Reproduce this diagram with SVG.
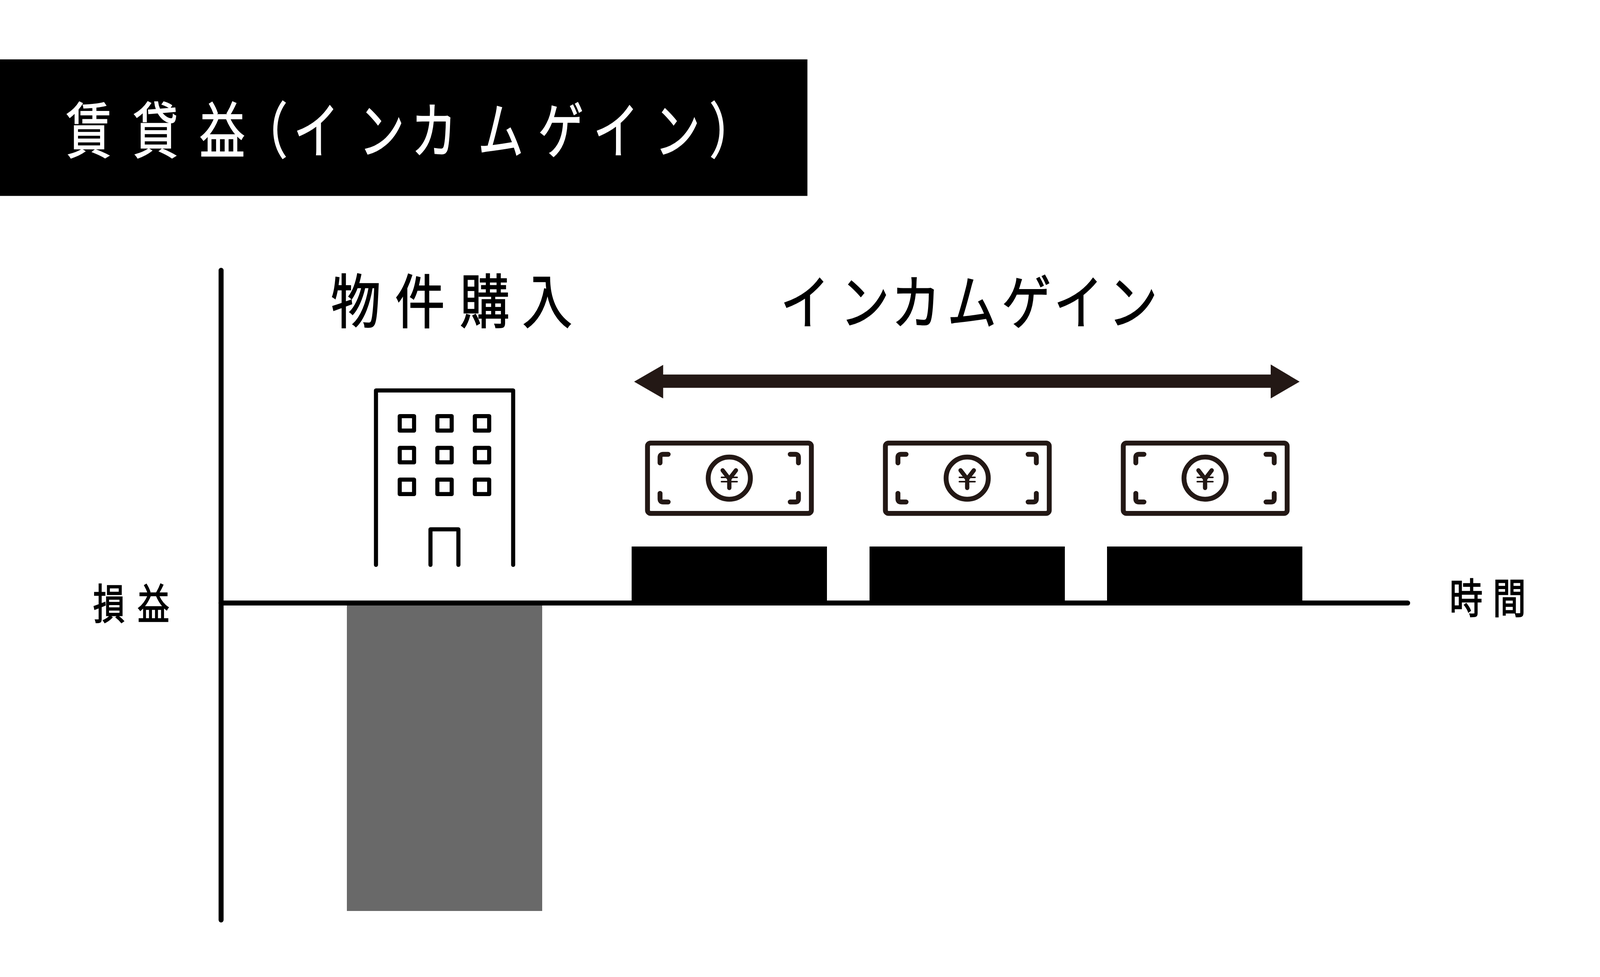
<svg xmlns="http://www.w3.org/2000/svg" xmlns:xlink="http://www.w3.org/1999/xlink" width="4168" height="2501" viewBox="0 0 4168 2501">
<style>
.t{font-family:"Noto Sans CJK JP","Noto Sans CJK SC",sans-serif;text-anchor:middle;fill:#000;stroke:#000;stroke-width:2.5}
.line{fill:none;stroke:#000;stroke-width:10.5;stroke-linecap:round;stroke-linejoin:round}
.axis{fill:none;stroke:#000;stroke-width:12.8;stroke-linecap:round}
.bill{fill:none;stroke:#231815;stroke-width:12.5;stroke-linecap:round;stroke-linejoin:round}
.bar{fill:#000}
</style>
<defs>
<g id="billIcon">
<rect class="bill" x="1657.6" y="1134.2" width="419.5" height="180" rx="8"/>
<path class="bill" d="M1689.7 1185V1171Q1689.7 1163 1697.7 1163H1710.5M2023 1163H2036Q2044 1163 2044 1171V1185M1689.7 1263V1277Q1689.7 1285 1697.7 1285H1710.5M2023 1285H2036Q2044 1285 2044 1277V1263"/>
<circle class="bill" cx="1867" cy="1224" r="54"/>
<path class="bill" style="stroke-width:11" d="M1850 1204L1867 1226L1884 1204M1867 1226V1249"/>
<path class="bill" style="stroke-width:4" d="M1847 1222H1887M1847 1233H1887"/>
</g>
</defs>
<rect width="4168" height="2501" fill="#fff"/>
<g id="title">
<rect x="0" y="152" width="2067" height="349.5" fill="#000"/>
<text class="t" style="fill:#fff;stroke:#fff" font-size="155" transform="scale(.75 1)" y="391" x="302.7 530.7 758.7 904 1080 1302.7 1481.3 1709.3 1914.7 2102.7 2312 2498.7">賃貸益（インカムゲイン）</text>
</g>
<g id="connectors">
<path class="axis" d="M566 692V2355"/>
<path class="axis" d="M566 1543.6H3603.6"/>
<path d="M1623.3 977L1697.7 934V958.7H3253V933L3327 977L3253 1020V992.7H1697.7V1020Z" fill="#231815"/>
</g>
<g id="loss-bar"><rect x="888" y="1550" width="500" height="782" fill="#696969"/></g>
<g id="income-bar-1"><rect class="bar" x="1617" y="1399" width="500" height="151"/></g>
<g id="income-bar-2"><rect class="bar" x="2226" y="1399" width="500" height="151"/></g>
<g id="income-bar-3"><rect class="bar" x="2834" y="1399" width="500" height="151"/></g>
<g id="building">
<path class="line" d="M962.5 1446V999.5H1313.7V1446M1102 1446V1355H1173.5V1446"/>
<g class="line">
<rect x="1023.3" y="1065.3" width="36.7" height="37"/><rect x="1119.6" y="1065.3" width="36.7" height="37"/><rect x="1215.6" y="1065.3" width="36.7" height="37"/>
<rect x="1023.3" y="1146.6" width="36.7" height="37"/><rect x="1119.6" y="1146.6" width="36.7" height="37"/><rect x="1215.6" y="1146.6" width="36.7" height="37"/>
<rect x="1023.3" y="1227.8" width="36.7" height="37"/><rect x="1119.6" y="1227.8" width="36.7" height="37"/><rect x="1215.6" y="1227.8" width="36.7" height="37"/>
</g>
</g>
<g id="bill-1"><use href="#billIcon" xlink:href="#billIcon"/></g>
<g id="bill-2"><use href="#billIcon" xlink:href="#billIcon" x="609"/></g>
<g id="bill-3"><use href="#billIcon" xlink:href="#billIcon" x="1218"/></g>
<g id="label-purchase"><text class="t" font-size="150" transform="scale(.85 1)" y="827" x="1071.8 1264.7 1460 1648.2">物件購入</text></g>
<g id="label-income"><text class="t" font-size="150" transform="scale(.84 1)" y="829" x="2453.6 2635.7 2791.7 2961.9 3128.6 3286.9 3453">インカムゲイン</text></g>
<g id="label-pl"><text class="t" font-size="107" transform="scale(.76 1)" y="1585" x="367.1 517.1">損益</text></g>
<g id="label-time"><text class="t" font-size="106" transform="scale(.8 1)" y="1570.5" x="4691.3 4830">時間</text></g>
</svg>
